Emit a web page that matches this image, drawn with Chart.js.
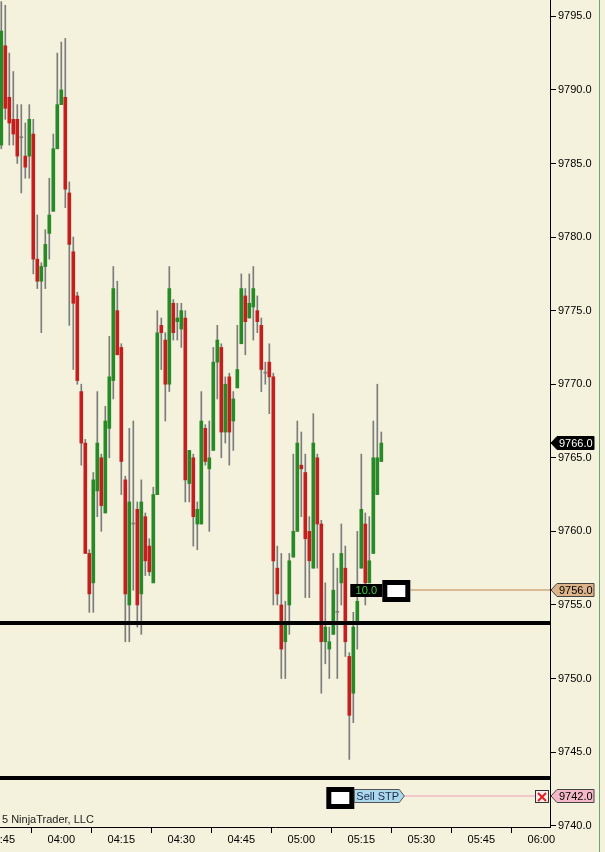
<!DOCTYPE html>
<html>
<head>
<meta charset="utf-8">
<script src="https://cdn.jsdelivr.net/npm/chart.js@4.4.1/dist/chart.umd.min.js"></script>
<style>
  html, body { margin: 0; padding: 0; background: #f4f2dc; overflow: hidden; }
  #wrap { width: 605px; height: 852px; }
</style>
</head>
<body>
<div id="wrap"><canvas id="chart" width="605" height="852"></canvas></div>
<script>
// 1-minute bars, first bar at 03:45
const opens = [
  9786.25, 9793.0, 9789.5, 9788.0, 9788.0, 9786.75, 9785.5, 9785.5, 9787.0, 9778.5,
  9777.0, 9778.0, 9780.25, 9781.75, 9786.0, 9789.0, 9789.5, 9783.0, 9779.0, 9776.0,
  9769.5, 9766.0, 9758.5, 9756.5, 9762.75, 9765.0, 9761.25, 9767.0, 9770.25, 9775.0,
  9772.5, 9763.5, 9755.0, 9760.5, 9761.5, 9755.75, 9761.0, 9759.0, 9756.5, 9762.5,
  9774.0, 9773.0, 9770.0, 9775.5, 9774.25, 9773.75, 9774.5, 9763.25, 9765.0, 9760.5,
  9760.5, 9767.0, 9764.25, 9765.5, 9771.5, 9772.5, 9766.75, 9770.5, 9767.5, 9769.75,
  9772.75, 9776.0, 9774.5, 9775.25, 9775.0, 9774.0, 9770.75, 9771.5, 9770.5, 9757.5,
  9755.0, 9752.5, 9755.0, 9758.25, 9760.0, 9764.5, 9764.0, 9760.0, 9757.5, 9765.0,
  9760.5, 9752.5, 9752.0, 9753.0, 9754.5, 9756.5, 9757.5, 9751.5, 9749.0, 9753.75,
  9757.5, 9760.5, 9756.5, 9758.5, 9762.5, 9764.75
];
const highs = [
  9796.0, 9795.75, 9792.5, 9791.25, 9789.0, 9789.0, 9787.75, 9789.0, 9788.0, 9781.5,
  9778.25, 9780.5, 9784.0, 9787.0, 9792.5, 9793.25, 9793.5, 9783.75, 9780.0, 9776.25,
  9770.0, 9766.25, 9758.75, 9764.0, 9769.5, 9765.25, 9768.5, 9773.25, 9778.0, 9777.0,
  9772.75, 9763.75, 9767.0, 9767.5, 9762.0, 9763.5, 9761.25, 9759.5, 9763.0, 9775.0,
  9774.5, 9773.5, 9778.0, 9775.75, 9775.5, 9775.5, 9775.0, 9765.5, 9765.25, 9762.0,
  9769.5, 9767.25, 9767.5, 9772.5, 9774.0, 9772.75, 9770.5, 9770.75, 9769.5, 9774.0,
  9777.5, 9776.5, 9777.5, 9778.0, 9776.0, 9774.5, 9771.5, 9772.75, 9770.75, 9759.0,
  9758.5, 9755.25, 9758.5, 9765.25, 9767.5, 9766.75, 9765.25, 9761.0, 9768.0, 9765.25,
  9760.75, 9756.5, 9753.5, 9758.5, 9757.5, 9760.5, 9759.0, 9751.75, 9754.5, 9760.0,
  9765.25, 9761.25, 9761.0, 9767.5, 9770.0, 9766.75
];
const lows = [
  9786.0, 9788.0, 9786.25, 9786.25, 9785.0, 9783.0, 9784.0, 9784.0, 9777.5, 9776.5,
  9773.5, 9776.5, 9778.5, 9781.75, 9786.0, 9789.0, 9782.0, 9774.0, 9771.0, 9770.0,
  9764.5, 9758.5, 9754.5, 9754.5, 9761.0, 9760.0, 9761.25, 9765.0, 9769.0, 9772.0,
  9762.5, 9752.5, 9752.5, 9756.0, 9753.5, 9753.0, 9757.0, 9757.0, 9756.5, 9762.5,
  9771.0, 9767.5, 9769.5, 9773.0, 9773.0, 9772.5, 9762.0, 9762.0, 9759.0, 9758.75,
  9760.5, 9764.5, 9760.0, 9765.5, 9769.0, 9765.0, 9766.0, 9764.5, 9765.5, 9769.75,
  9772.75, 9772.0, 9774.5, 9773.0, 9773.5, 9769.5, 9770.0, 9768.0, 9755.0, 9755.0,
  9750.0, 9750.0, 9753.0, 9758.25, 9760.0, 9761.0, 9755.5, 9755.5, 9757.5, 9757.5,
  9749.0, 9751.0, 9750.0, 9753.0, 9750.0, 9755.0, 9751.5, 9744.5, 9747.0, 9752.0,
  9757.5, 9755.0, 9756.5, 9758.5, 9762.5, 9764.75
];
const closes = [
  9794.0, 9788.75, 9787.75, 9787.0, 9785.5, 9786.75, 9784.75, 9788.0, 9778.5, 9777.0,
  9778.0, 9779.5, 9781.5, 9786.0, 9789.0, 9790.0, 9783.25, 9779.5, 9775.5, 9770.25,
  9766.0, 9758.5, 9755.75, 9763.5, 9766.0, 9761.75, 9767.5, 9770.5, 9776.5, 9772.0,
  9764.75, 9755.75, 9762.0, 9760.5, 9755.0, 9762.0, 9758.0, 9757.25, 9762.5, 9773.5,
  9773.5, 9770.0, 9776.5, 9773.5, 9774.5, 9775.0, 9763.5, 9765.5, 9761.0, 9761.5,
  9767.5, 9764.75, 9765.0, 9771.5, 9773.0, 9766.75, 9770.0, 9766.75, 9769.0, 9771.0,
  9776.5, 9774.25, 9775.5, 9776.5, 9774.25, 9771.0, 9770.75, 9770.5, 9758.0, 9755.75,
  9752.0, 9753.75, 9758.0, 9760.0, 9766.0, 9764.25, 9759.5, 9758.0, 9766.0, 9760.5,
  9752.5, 9753.5, 9752.5, 9756.0, 9754.5, 9758.5, 9752.5, 9747.5, 9753.5, 9755.25,
  9761.5, 9756.5, 9758.0, 9765.0, 9765.0, 9766.0
];

const xTickMinutes = [0, 15, 30, 45, 60, 75, 90, 105, 120, 135];
const xTickLabels = ["03:45", "04:00", "04:15", "04:30", "04:45", "05:00", "05:15", "05:30", "05:45", "06:00"];
const yTicks = [9740, 9745, 9750, 9755, 9760, 9765, 9770, 9775, 9780, 9785, 9790, 9795];

const lastPrice = 9766.0;
const hLines = [9753.75, 9743.25];
const targetPrice = 9756.0;
const targetQty = "10.0";
const stopPrice = 9742.0;
const stopText = "Sell STP";
const copyHead = "\u00a9 202";
const copyTail = "5 NinjaTrader, LLC";

const BG = "#f4f2dc";
const UP = "#268a26";
const DOWN = "#c41f1f";
const WICK = "#7c7c7c";
const FONT = "Liberation Sans, Arial, sans-serif";

const bodyColors = opens.map((o, i) => closes[i] > o ? UP : (closes[i] < o ? DOWN : WICK));

// small pentagon price tag
function priceTag(ctx, xl, yc, w, h, fill, stroke, text, color, pointRight) {
  ctx.beginPath();
  if (pointRight) {
    ctx.moveTo(xl, yc - h / 2);
    ctx.lineTo(xl + w - 5, yc - h / 2);
    ctx.lineTo(xl + w, yc);
    ctx.lineTo(xl + w - 5, yc + h / 2);
    ctx.lineTo(xl, yc + h / 2);
  } else {
    ctx.moveTo(xl, yc);
    ctx.lineTo(xl + 6, yc - h / 2);
    ctx.lineTo(xl + w, yc - h / 2);
    ctx.lineTo(xl + w, yc + h / 2);
    ctx.lineTo(xl + 6, yc + h / 2);
  }
  ctx.closePath();
  ctx.fillStyle = fill;
  ctx.fill();
  ctx.lineWidth = 1;
  ctx.strokeStyle = stroke;
  ctx.stroke();
  ctx.fillStyle = color;
  ctx.font = "11px " + FONT;
  ctx.textBaseline = "middle";
  ctx.textAlign = "left";
  ctx.fillText(text, pointRight ? xl + 2 : xl + 8, yc + 0.5);
}

function whiteBox(ctx, x0, y0, w, h) {
  ctx.fillStyle = "#000";
  ctx.fillRect(x0, y0, w, h);
  ctx.fillStyle = "#fff";
  ctx.fillRect(x0 + 5, y0 + 5, w - 10, h - 10);
}

const bgPlugin = {
  id: "bg",
  beforeDraw(chart) {
    const ctx = chart.ctx;
    ctx.save();
    ctx.fillStyle = BG;
    ctx.fillRect(0, 0, chart.width, chart.height);
    ctx.restore();
  }
};

const overlay = {
  id: "overlay",
  afterDatasetsDraw(chart) {
    const { ctx, chartArea: a, scales: { x, y } } = chart;
    ctx.save();

    // thick black horizontal lines
    ctx.strokeStyle = "#000";
    ctx.lineWidth = 4;
    hLines.forEach(p => {
      const py = Math.round(y.getPixelForValue(p));
      ctx.beginPath();
      ctx.moveTo(a.left, py);
      ctx.lineTo(a.right, py);
      ctx.stroke();
    });

    const lastX = x.getPixelForValue(opens.length - 1);

    // target order
    const ty = Math.round(y.getPixelForValue(targetPrice));
    ctx.strokeStyle = "#d2aa7c";
    ctx.lineWidth = 1.5;
    ctx.beginPath();
    ctx.moveTo(lastX + 29, ty);
    ctx.lineTo(a.right, ty);
    ctx.stroke();
    ctx.fillStyle = "#000";
    ctx.fillRect(lastX - 31, ty - 6, 32, 13);
    ctx.fillStyle = "#3ccf3c";
    ctx.font = "11px " + FONT;
    ctx.textAlign = "center";
    ctx.textBaseline = "middle";
    ctx.fillText(targetQty, lastX - 15, ty + 1);
    whiteBox(ctx, lastX + 1, ty - 10, 28, 22);

    // stop order
    const sy = Math.round(y.getPixelForValue(stopPrice));
    ctx.strokeStyle = "#f2b8c4";
    ctx.lineWidth = 1.5;
    ctx.beginPath();
    ctx.moveTo(lastX + 23, sy);
    ctx.lineTo(a.right - 15, sy);
    ctx.stroke();
    whiteBox(ctx, lastX - 55, sy - 9, 28, 22);
    priceTag(ctx, lastX - 27, sy, 50, 13, "#acd8ec", "#555", stopText, "#1a2a50", true);

    // cancel box
    const bx = a.right - 15;
    ctx.fillStyle = "#f8ecec";
    ctx.fillRect(bx, sy - 6, 14, 13);
    ctx.strokeStyle = "#333";
    ctx.lineWidth = 1;
    ctx.strokeRect(bx + 0.5, sy - 5.5, 13, 12);
    ctx.strokeStyle = "#e02020";
    ctx.lineWidth = 2;
    ctx.beginPath();
    ctx.moveTo(bx + 3, sy - 3);
    ctx.lineTo(bx + 11, sy + 5);
    ctx.moveTo(bx + 11, sy - 3);
    ctx.lineTo(bx + 3, sy + 5);
    ctx.stroke();

    ctx.restore();
  },
  afterDraw(chart) {
    const { ctx, chartArea: a, scales: { y } } = chart;
    ctx.save();
    const ax = a.right + 1;
    priceTag(ctx, ax, Math.round(y.getPixelForValue(lastPrice)), 43, 13, "#000", "#000", lastPrice.toFixed(1), "#fff", false);
    priceTag(ctx, ax, Math.round(y.getPixelForValue(targetPrice)), 43, 13, "#dcb48a", "#444", targetPrice.toFixed(1), "#000", false);
    priceTag(ctx, ax, Math.round(y.getPixelForValue(stopPrice)), 43, 13, "#f6b8c8", "#444", stopPrice.toFixed(1), "#000", false);

    // copyright, its start is off the left edge
    ctx.font = "11px " + FONT;
    ctx.fillStyle = "#222";
    ctx.textBaseline = "alphabetic";
    ctx.textAlign = "right";
    ctx.fillText(copyHead, -1, a.bottom - 4);
    ctx.textAlign = "left";
    ctx.fillText(copyTail, 2, a.bottom - 4);

    // right border
    ctx.strokeStyle = "#6aa56a";
    ctx.lineWidth = 1;
    ctx.beginPath();
    ctx.moveTo(599.5, 0);
    ctx.lineTo(599.5, chart.height);
    ctx.stroke();
    ctx.restore();
  }
};

new Chart(document.getElementById("chart"), {
  type: "bar",
  data: {
    datasets: [
      {
        label: "Body",
        data: opens.map((o, i) => ({ x: i, y: [o, closes[i]] })),
        backgroundColor: bodyColors,
        barThickness: 3,
        minBarLength: 1,
        grouped: false,
        borderWidth: 0
      },
      {
        label: "Wick",
        data: lows.map((l, i) => ({ x: i, y: [l, highs[i]] })),
        backgroundColor: WICK,
        barThickness: 1,
        grouped: false,
        borderWidth: 0
      }
    ]
  },
  options: {
    responsive: false,
    animation: false,
    events: [],
    layout: { padding: 0 },
    plugins: { legend: { display: false }, tooltip: { enabled: false } },
    scales: {
      x: {
        type: "linear",
        position: "bottom",
        offset: false,
        min: -0.325,
        max: 137.17,
        afterBuildTicks: s => { s.ticks = xTickMinutes.map(v => ({ value: v })); },
        afterFit: s => { s.height = 25; s.paddingLeft = 0; s.paddingRight = 0; },
        grid: { drawOnChartArea: false, drawTicks: true, tickLength: 6, color: "#000" },
        border: { display: true, color: "#000", width: 1 },
        ticks: {
          autoSkip: false,
          maxRotation: 0,
          padding: 0,
          color: "#000",
          font: { family: FONT, size: 11 },
          callback: v => xTickLabels[xTickMinutes.indexOf(v)]
        }
      },
      y: {
        position: "right",
        min: 9739.91,
        max: 9796.11,
        afterBuildTicks: s => { s.ticks = yTicks.map(v => ({ value: v })); },
        afterFit: s => { s.width = 55; s.paddingTop = 0; s.paddingBottom = 0; },
        grid: { drawOnChartArea: false, drawTicks: true, tickLength: 6, color: "#000" },
        border: { display: true, color: "#000", width: 1 },
        ticks: {
          padding: 2,
          color: "#000",
          font: { family: FONT, size: 11 },
          callback: v => Number(v).toFixed(1)
        }
      }
    }
  },
  plugins: [bgPlugin, overlay]
});
</script>
</body>
</html>
